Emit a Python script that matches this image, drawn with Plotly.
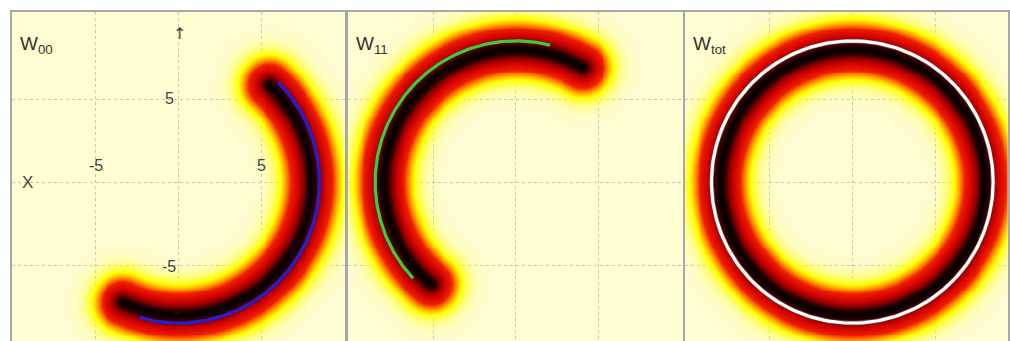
import numpy as np
import plotly.graph_objects as go

# ---------------- data ----------------
PANEL_NAMES = ["00", "11", "tot"]
BAND_RADIUS = 8.0          # radius of the dark core of each density band
BAND_SIGMA = 1.0           # radial width of the band
W00_BAND_ANGLES = [-115, 47]   # degrees, counter-clockwise from start to end
W11_BAND_ANGLES = [60, 230]
WTOT_BAND_ANGLES = [0, 360]
ARC_RADIUS = 8.5           # radius of the classical orbit lines
W00_ARC_ANGLES = [-106, 45]
W11_ARC_ANGLES = [76, 223]
WTOT_ARC_ANGLES = [0, 360]
TICK_VALUES = [-5, 0, 5]
AXIS_TICK_LABELS = ["-5", "5"]

# ---------------- geometry ----------------
GRID = np.linspace(-10.6, 10.6, 361)
X, Y = np.meshgrid(GRID, GRID)
R = np.hypot(X, Y)
PHI = np.degrees(np.arctan2(Y, X))


def band(angles):
    a0, a1 = angles
    if a1 - a0 >= 360:
        d = np.abs(R - BAND_RADIUS)
    else:
        rel = np.mod(PHI - a0, 360.0)
        inside = rel <= (a1 - a0)
        d_arc = np.abs(R - BAND_RADIUS)
        ends = []
        for a in (a0, a1):
            ex = BAND_RADIUS * np.cos(np.radians(a))
            ey = BAND_RADIUS * np.sin(np.radians(a))
            ends.append(np.hypot(X - ex, Y - ey))
        d = np.where(inside, d_arc, np.minimum(ends[0], ends[1]))
    return np.exp(-d ** 2 / (2 * BAND_SIGMA ** 2))


def arc(angles):
    t = np.radians(np.linspace(angles[0], angles[1], 200))
    return ARC_RADIUS * np.cos(t), ARC_RADIUS * np.sin(t)


HOT = [
    [0.0, "rgba(255,255,0,0)"],
    [0.18, "rgba(255,255,0,1)"],
    [0.32, "rgb(255,140,0)"],
    [0.46, "rgb(240,30,0)"],
    [0.74, "rgb(205,0,0)"],
    [0.89, "rgb(130,0,0)"],
    [0.97, "rgb(40,0,0)"],
    [1.0, "rgb(10,0,0)"],
]

W, H = 1010, 341
TOP = 12
PX_PER_UNIT = 16.6
panels = [
    dict(left=12, right=346, cx=179, bands=W00_BAND_ANGLES, arc=W00_ARC_ANGLES, color="rgb(35,30,215)"),
    dict(left=349, right=684, cx=517, bands=W11_BAND_ANGLES, arc=W11_ARC_ANGLES, color="rgb(60,205,60)"),
    dict(left=686, right=1010, cx=854, bands=WTOT_BAND_ANGLES, arc=WTOT_ARC_ANGLES, color="white"),
]
CY = 182

fig = go.Figure()
layout = dict(
    width=W, height=H, margin=dict(l=0, r=0, t=0, b=0),
    paper_bgcolor="white", plot_bgcolor="rgb(255,253,210)",
    showlegend=False, annotations=[],
)
ytop = (CY - TOP) / PX_PER_UNIT
ybot = -(H - CY) / PX_PER_UNIT

for i, p in enumerate(panels):
    n = "" if i == 0 else str(i + 1)
    xa, ya = "x" + n, "y" + n
    fig.add_trace(go.Heatmap(x=GRID, y=GRID, z=band(p["bands"]), colorscale=HOT,
                             zmin=0, zmax=1, showscale=False, zsmooth="best",
                             xaxis=xa, yaxis=ya, hoverinfo="skip"))
    ax, ay = arc(p["arc"])
    if i == 2:
        fig.add_trace(go.Scatter(x=ax, y=ay, mode="lines", line=dict(color="rgba(120,120,120,0.6)", width=4.5),
                                 xaxis=xa, yaxis=ya, hoverinfo="skip"))
    fig.add_trace(go.Scatter(x=ax, y=ay, mode="lines", line=dict(color=p["color"], width=3.2),
                             xaxis=xa, yaxis=ya, hoverinfo="skip"))
    xmin = -(p["cx"] - p["left"]) / PX_PER_UNIT
    xmax = (p["right"] - p["cx"]) / PX_PER_UNIT
    layout["xaxis" + n] = dict(
        domain=[p["left"] / W, p["right"] / W], range=[xmin, xmax], anchor=ya,
        tickvals=TICK_VALUES, showticklabels=False, ticks="", zeroline=False,
        showgrid=True, gridcolor="rgba(120,120,120,0.4)", griddash="dot", gridwidth=1,
        showline=True, side="top", linecolor="#a8a8a8", linewidth=1.5,
    )
    layout["yaxis" + n] = dict(
        domain=[0, (H - TOP) / H], range=[ybot, ytop], anchor=xa,
        tickvals=TICK_VALUES, showticklabels=False, ticks="", zeroline=False,
        showgrid=True, gridcolor="rgba(120,120,120,0.4)", griddash="dot", gridwidth=1,
        showline=True, mirror=True, linecolor="#a8a8a8", linewidth=1.5,
    )
    layout["annotations"].append(dict(
        text="W<sub>" + PANEL_NAMES[i] + "</sub>", xref="paper", yref="paper",
        x=(p["left"] + 6) / W, y=1 - 31 / H, xanchor="left", yanchor="top",
        showarrow=False, font=dict(family="Liberation Sans, Arial", size=19, color="#333333"),
    ))

lab = dict(family="Liberation Sans, Arial", size=16, color="#444444")
layout["annotations"] += [
    dict(text=AXIS_TICK_LABELS[0], x=-5, y=1.0, xref="x", yref="y", showarrow=False, font=lab),
    dict(text=AXIS_TICK_LABELS[1], x=5, y=1.0, xref="x", yref="y", showarrow=False, font=lab),
    dict(text=AXIS_TICK_LABELS[1], x=-0.55, y=5.05, xref="x", yref="y", showarrow=False, font=lab),
    dict(text=AXIS_TICK_LABELS[0], x=-0.6, y=-5.1, xref="x", yref="y", showarrow=False, font=lab),
    dict(text="X", x=-9.15, y=0, xref="x", yref="y", showarrow=False,
         font=dict(family="Liberation Sans, Arial", size=17, color="#444444")),
    dict(text="↑", x=0.05, y=8.95, xref="x", yref="y", showarrow=False,
         font=dict(family="DejaVu Sans", size=16, color="#444444")),
    dict(text="P", x=-0.05, y=-7.85, xref="x", yref="y", showarrow=False,
         font=dict(family="Liberation Sans, Arial", size=11, color="#3a0000")),
]

fig.update_layout(**layout)
fig.write_html("out.html")
